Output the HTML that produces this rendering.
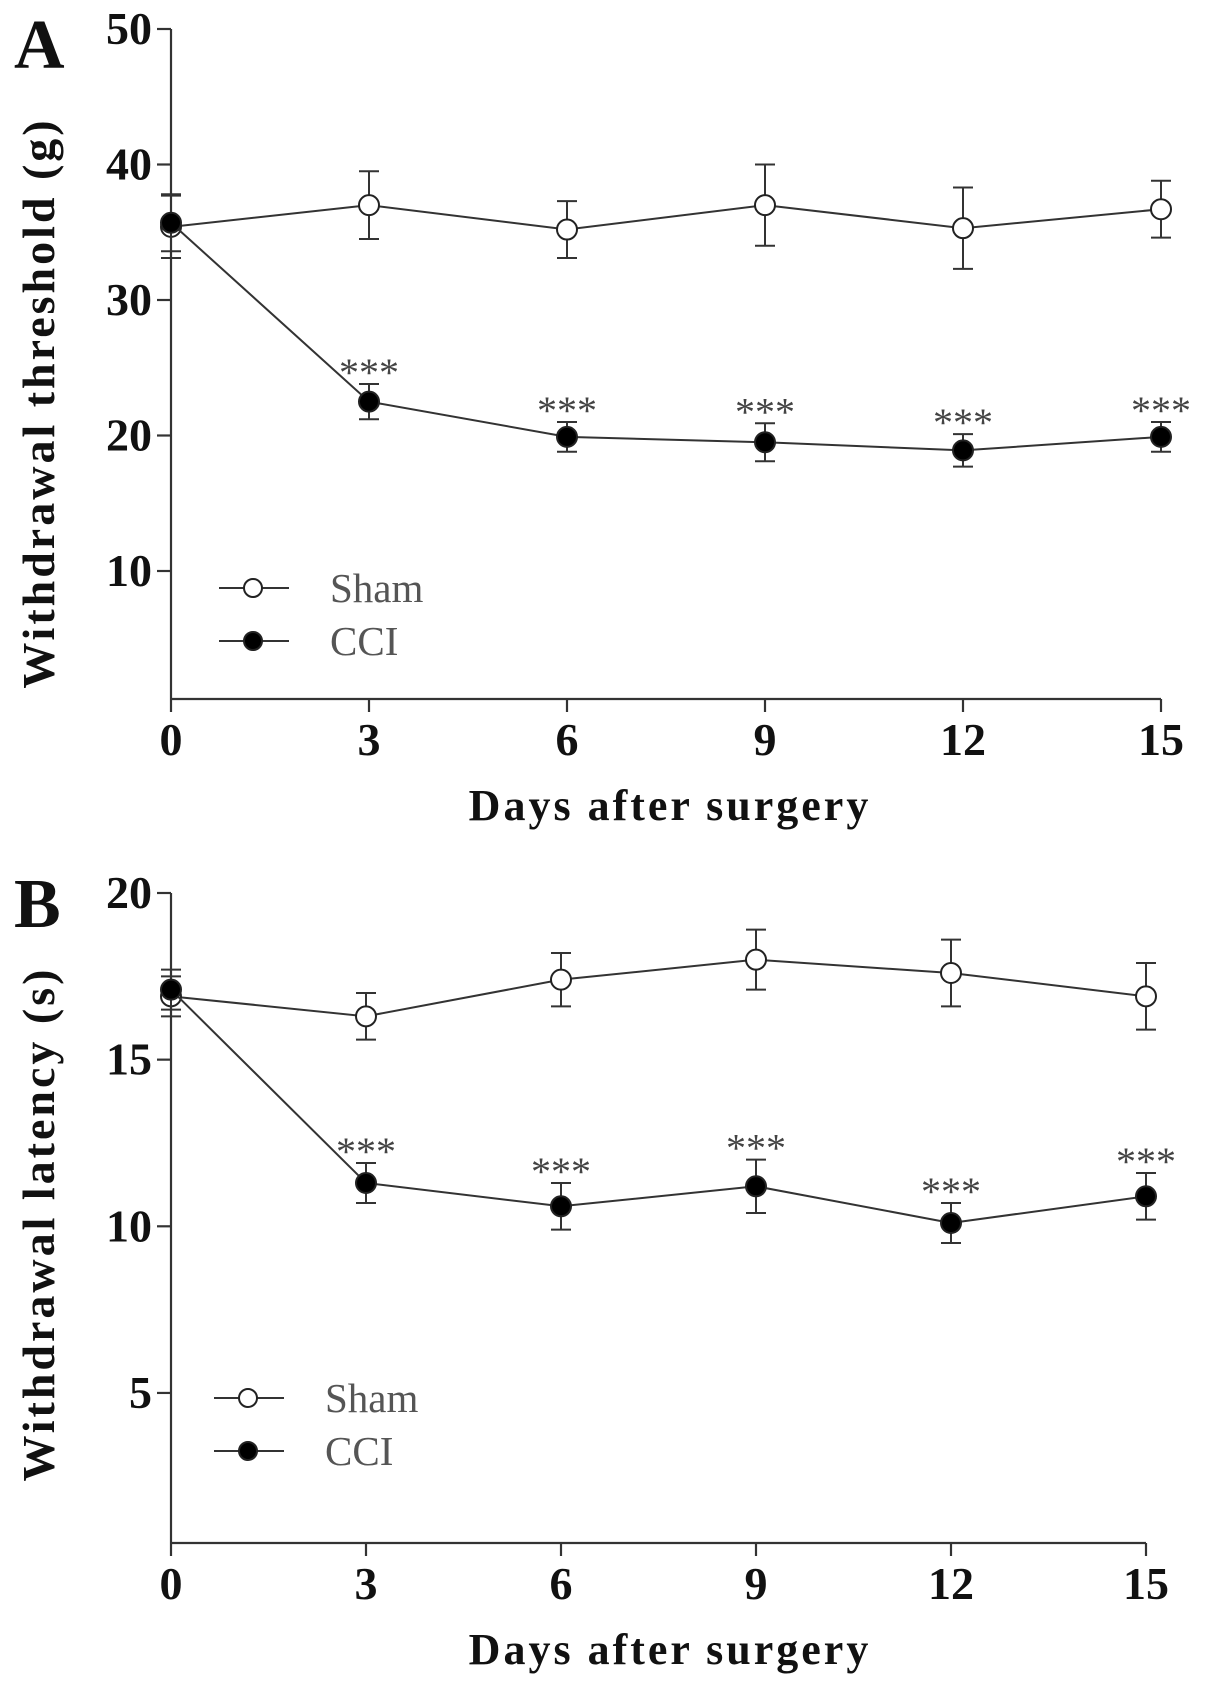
<!DOCTYPE html>
<html><head><meta charset="utf-8"><style>
html,body{margin:0;padding:0;background:#fff;}
svg{display:block;font-family:"Liberation Serif",serif;}
</style></head><body>
<svg id="fig" width="1205" height="1687" viewBox="0 0 1205 1687"></svg>
<script>
const days = [0,3,6,9,12,15];
const xTicks = ["0","3","6","9","12","15"];
const aShamMean = [35.4,37.0,35.2,37.0,35.3,36.7];
const aShamErr = [2.3,2.5,2.1,3.0,3.0,2.1];
const aCciMean = [35.7,22.5,19.9,19.5,18.9,19.9];
const aCciErr = [2.1,1.3,1.1,1.4,1.2,1.1];
const aYTicks = [10,20,30,40,50];
const bShamMean = [16.9,16.3,17.4,18.0,17.6,16.9];
const bShamErr = [0.6,0.7,0.8,0.9,1.0,1.0];
const bCciMean = [17.1,11.3,10.6,11.2,10.1,10.9];
const bCciErr = [0.6,0.6,0.7,0.8,0.6,0.7];
const bYTicks = [5,10,15,20];
const sig = ["","***","***","***","***","***"];

const NS="http://www.w3.org/2000/svg";
const svg=document.getElementById('fig');
function mk(tag,attrs,parent){const e=document.createElementNS(NS,tag);for(const k in attrs)e.setAttribute(k,attrs[k]);(parent||svg).appendChild(e);return e;}

function panel(cfg){
  const g=mk('g',{});
  
  
  const X=d=>cfg.x0+(d-days[0])*cfg.dx;
  const Y=v=>cfg.yTop+(cfg.yMax-v)*cfg.ky;
  const ax=mk('g',{stroke:'#333','stroke-width':2.2,fill:'none'},g);
  
  mk('line',{x1:cfg.x0,y1:Y(cfg.yMax),x2:cfg.x0,y2:cfg.yBottom},ax);
  mk('line',{x1:cfg.x0,y1:cfg.yBottom,x2:X(15),y2:cfg.yBottom},ax);
  cfg.yTicks.forEach(t=>{
    mk('line',{x1:cfg.x0-14,y1:Y(t),x2:cfg.x0,y2:Y(t)},ax);
    const tx=mk('text',{x:cfg.x0-19,y:Y(t)+15,'text-anchor':'end','font-size':46,'font-weight':'bold',fill:'#111'},g);
    tx.textContent=t;
    
  });
  days.forEach((d,i)=>{
    mk('line',{x1:X(d),y1:cfg.yBottom,x2:X(d),y2:cfg.yBottom+13},ax);
    const tx=mk('text',{x:X(d),y:cfg.yBottom+56,'text-anchor':'middle','font-size':46,'font-weight':'bold',fill:'#111'},g);
    tx.textContent=xTicks[i];
    
  });
  const xt=mk('text',{x:670,y:cfg.yBottom+121,'text-anchor':'middle','font-size':44,'font-weight':'bold','letter-spacing':3,fill:'#111'},g);
  xt.textContent='Days after surgery';
  
  const yt=mk('text',{x:0,y:0,transform:`translate(54,${cfg.yTitleC}) rotate(-90)`,'text-anchor':'middle','font-size':46,'font-weight':'bold','letter-spacing':3,fill:'#111'},g);
  yt.textContent=cfg.yTitle;
  
  const pl=mk('text',{x:14,y:cfg.labelY,'font-size':70,'font-weight':'bold',fill:'#111'},g);
  pl.textContent=cfg.label;
  

  function series(mean,err,filled,nm){
    const sg=mk('g',{},g);
    
    mk('polyline',{points:days.map((d,i)=>X(d)+','+Y(mean[i])).join(' '),fill:'none',stroke:'#333','stroke-width':2},sg);
    days.forEach((d,i)=>{
      const eb=mk('path',{d:`M${X(d)},${Y(mean[i]+err[i])}V${Y(mean[i]-err[i])}M${X(d)-10},${Y(mean[i]+err[i])}h20M${X(d)-10},${Y(mean[i]-err[i])}h20`,stroke:'#333','stroke-width':2,fill:'none'},sg);
      
      const c=mk('circle',{cx:X(d),cy:Y(mean[i]),r:10,fill:filled?'#000':'#fff',stroke:'#222','stroke-width':2},sg);
      
    });
  }
  series(cfg.sham,cfg.shamErr,false,'sham-series');
  series(cfg.cci,cfg.cciErr,true,'cci-series');
  days.forEach((d,i)=>{
    if(!sig[i])return;
    const s=mk('text',{x:X(d),y:Y(cfg.cci[i]+cfg.cciErr[i])+2,'text-anchor':'middle','font-size':40,fill:'#444'},g);
    s.textContent=sig[i];
    
  });
  [['Sham',false,0],['CCI',true,1]].forEach(([lab,f,k])=>{
    const lg=mk('g',{},g);
    
    const yy=cfg.legY+k*53;
    mk('line',{x1:cfg.legX-34,y1:yy,x2:cfg.legX+36,y2:yy,stroke:'#333','stroke-width':2},lg);
    mk('circle',{cx:cfg.legX,cy:yy,r:9,fill:f?'#000':'#fff',stroke:'#222','stroke-width':2},lg);
    const t=mk('text',{x:cfg.legX+77,y:yy+14,'font-size':41,fill:'#555'},lg);
    t.textContent=lab;
  });
}
panel({name:'panel-a',label:'A',labelY:68,x0:171,dx:66,yTop:29,yMax:50,ky:13.55,yBottom:699,yTicks:aYTicks,
  sham:aShamMean,shamErr:aShamErr,cci:aCciMean,cciErr:aCciErr,yTitle:'Withdrawal threshold (g)',yTitleC:403,legX:253,legY:588});
panel({name:'panel-b',label:'B',labelY:927,x0:171,dx:65,yTop:893,yMax:20,ky:33.33,yBottom:1543,yTicks:bYTicks,
  sham:bShamMean,shamErr:bShamErr,cci:bCciMean,cciErr:bCciErr,yTitle:'Withdrawal latency (s)',yTitleC:1224,legX:248,legY:1398});
</script>
</body></html>
